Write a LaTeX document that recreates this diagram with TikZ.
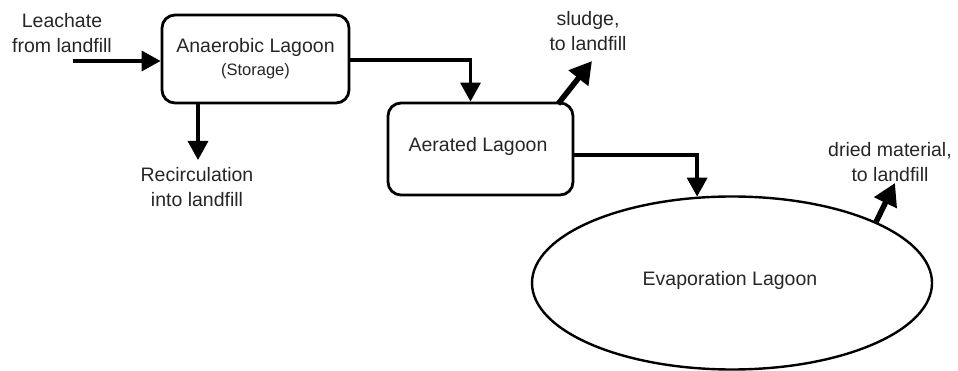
\documentclass[tikz,border=0pt]{standalone}
\usepackage{fontspec}
\setmainfont{Liberation Sans}
\usetikzlibrary{arrows.meta,shapes.geometric,calc}

\begin{document}
\begin{tikzpicture}[x=1pt,y=-1pt,
  every node/.style={font=\fontsize{19.5}{25}\selectfont, text=black!85},
  lagoon/.style={draw, line width=2.8pt, rounded corners=13pt, inner sep=0pt},
  pond/.style={draw, ellipse, line width=2.4pt, inner sep=0pt},
  label/.style={align=center, inner sep=0pt},
  flow/.style={line width=3.4pt, -{Triangle[length=19pt,width=20pt]}},
  outflow/.style={line width=5.5pt, -{Triangle[length=22pt,width=24pt]}}
]
\useasboundingbox (0,0) rectangle (958,371);

% process units
\node[lagoon, minimum width=187pt, minimum height=88pt] (anaer) at (255.5,59)
  {\begin{tabular}{@{}c@{}}Anaerobic Lagoon\\[-2pt]{\fontsize{16.5}{20}\selectfont(Storage)}\end{tabular}};
\node[lagoon, minimum width=185pt, minimum height=92pt] (aer) at (480.5,149) {};
\node[label] (aerlbl) at (478,146) {Aerated Lagoon};
\node[pond, minimum width=400pt, minimum height=173pt] (evap) at (732,283) {};
\node[label] (evaplbl) at (730,280) {Evaporation Lagoon};

% stream labels
\node[label] (leach) at (62,33) {Leachate\\from landfill};
\node[label] (recirc) at (197,187) {Recirculation\\into landfill};
\node[label] (sludge) at (588,31) {sludge,\\to landfill};
\node[label] (dried) at (890,162) {dried material,\\to landfill};

% free ends of the streams
\coordinate (feed) at (73,61);
\coordinate (sludgetip) at (592,61);
\coordinate (driedtip) at (895,183);
\coordinate (sludgefoot) at (558,104);
\coordinate (recirctip) at (198,160);

% connectors
\draw[flow] (feed) -- (feed -| anaer.west);
\draw[flow] (anaer.south -| recirctip) -- (recirctip);
\draw[flow] ([yshift=-1pt]anaer.east) -| ([xshift=-10pt]aer.north);
\draw[flow] ([yshift=-6pt]aer.east) -| (evap.112);
\draw[outflow] (sludgefoot) -- (sludgetip);
\draw[outflow] (evap.23) -- (driedtip);
\end{tikzpicture}
\end{document}
